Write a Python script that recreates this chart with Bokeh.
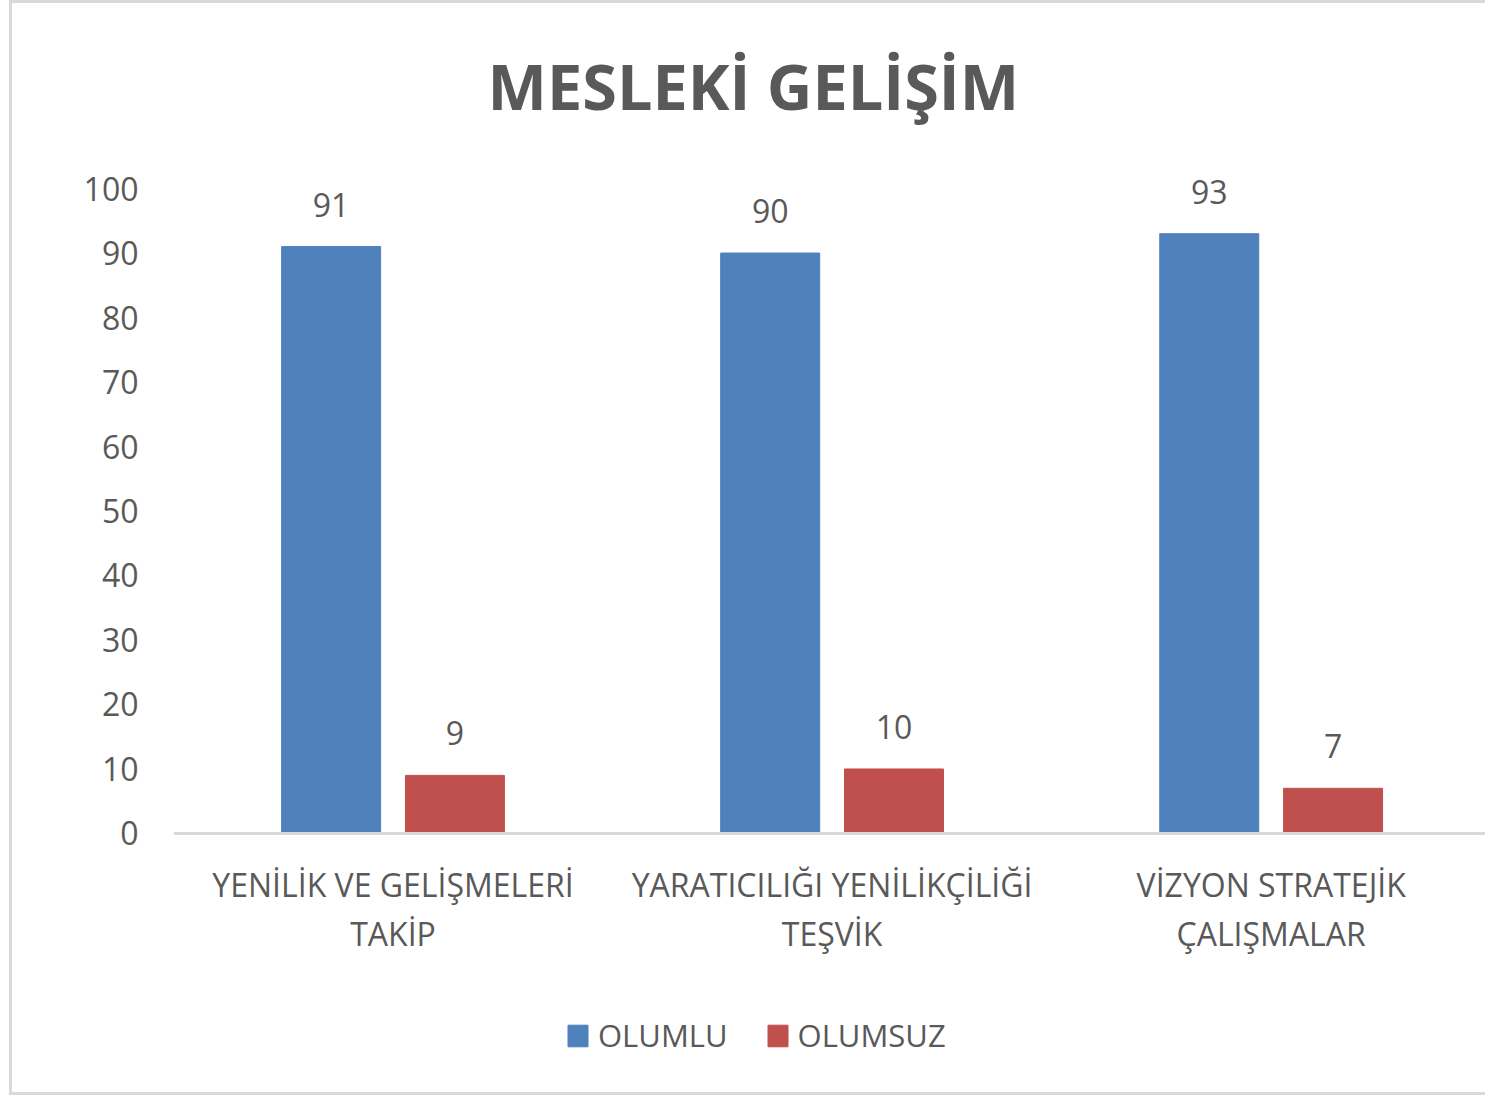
from bokeh.plotting import figure
from bokeh.models import Range1d, FixedTicker, ColumnDataSource, Legend, LegendItem, Span
from bokeh.transform import dodge
from bokeh.embed import file_html
from bokeh.resources import INLINE

title = "MESLEKİ GELİŞİM"
categories = ["YENİLİK VE GELİŞMELERİ\nTAKİP",
              "YARATICILIĞI YENİLİKÇİLİĞİ\nTEŞVİK",
              "VİZYON STRATEJİK\nÇALIŞMALAR"]
olumlu = [91, 90, 93]
olumsuz = [9, 10, 7]
series_names = ["OLUMLU", "OLUMSUZ"]
yticks = [0, 10, 20, 30, 40, 50, 60, 70, 80, 90, 100]

BLUE = "#4F81BD"
RED = "#C0504D"
TEXT = "#595959"
FONT = "Open Sans"

xs = [i + 0.5 for i in range(len(categories))]
src = ColumnDataSource(dict(x=xs, olumlu=olumlu, olumsuz=olumsuz,
                            base=[0] * len(xs),
                            line1=[c.split("\n")[0] for c in categories],
                            line2=[c.split("\n")[1] for c in categories],
                            lab1=[str(v) for v in olumlu],
                            lab2=[str(v) for v in olumsuz]))

p = figure(width=1476, height=1095, output_backend="svg", toolbar_location=None,
           x_range=Range1d(0, 2.995), y_range=Range1d(-41.1, 105.9),
           min_border_left=161, min_border_right=0, min_border_top=147,
           min_border_bottom=0,
           styles={"margin-left": "9px",
                   "border-left": "3px solid #D9D9D9", "border-top": "3px solid #D9D9D9",
                   "border-bottom": "3px solid #D9D9D9"})

p.title.text = title
p.title.text_font = FONT
p.title.text_font_style = "bold"
p.title.text_font_size = "63px"
p.title.text_color = TEXT
p.title.align = "left"
p.title.offset = 314
p.title.standoff = 45

# category baseline (x axis line)
p.add_layout(Span(location=0, dimension="width", line_color="#D9D9D9", line_width=3))

off = 0.141
w = 0.2255
r1 = p.vbar(x=dodge("x", -off), top="olumlu", width=w, source=src, color=BLUE)
r2 = p.vbar(x=dodge("x", off), top="olumsuz", width=w, source=src, color=RED)

for col, lab, dx in (("olumlu", "lab1", -off), ("olumsuz", "lab2", off)):
    p.text(x=dodge("x", dx), y=col, text=lab, source=src, text_align="center",
           text_baseline="alphabetic", y_offset=-42, text_font_size="32px",
           text_color=TEXT, text_font={"value": FONT})

# category labels under the baseline
for lab, yo in (("line1", 51), ("line2", 100)):
    p.text(x="x", y="base", text=lab, source=src, text_align="center",
           text_baseline="middle", y_offset=yo, text_font_size="32px",
           text_color=TEXT, text_font={"value": FONT})

p.xgrid.visible = False
p.ygrid.visible = False
p.outline_line_color = None
p.xaxis.visible = False

p.yaxis.ticker = FixedTicker(ticks=yticks)
p.yaxis.axis_line_color = None
p.yaxis.major_tick_line_color = None
p.yaxis.minor_tick_line_color = None
p.yaxis.major_tick_out = 0
p.yaxis.major_tick_in = 0
p.yaxis.major_label_standoff = 35
p.yaxis.major_label_text_font_size = "32px"
p.yaxis.major_label_text_font = FONT
p.yaxis.major_label_text_color = TEXT

lg = Legend(items=[LegendItem(label=series_names[0], renderers=[r1]),
                   LegendItem(label=series_names[1], renderers=[r2])],
            orientation="horizontal", location=(392, 42))
lg.border_line_color = None
lg.background_fill_alpha = 0
lg.padding = 0
lg.margin = 0
lg.spacing = 37
lg.label_standoff = 8
lg.glyph_width = 25
lg.glyph_height = 27
lg.label_text_font = FONT
lg.label_text_font_size = "31px"
lg.label_text_color = TEXT
p.add_layout(lg, "center")

open("out.html", "w").write(file_html(p, INLINE))
